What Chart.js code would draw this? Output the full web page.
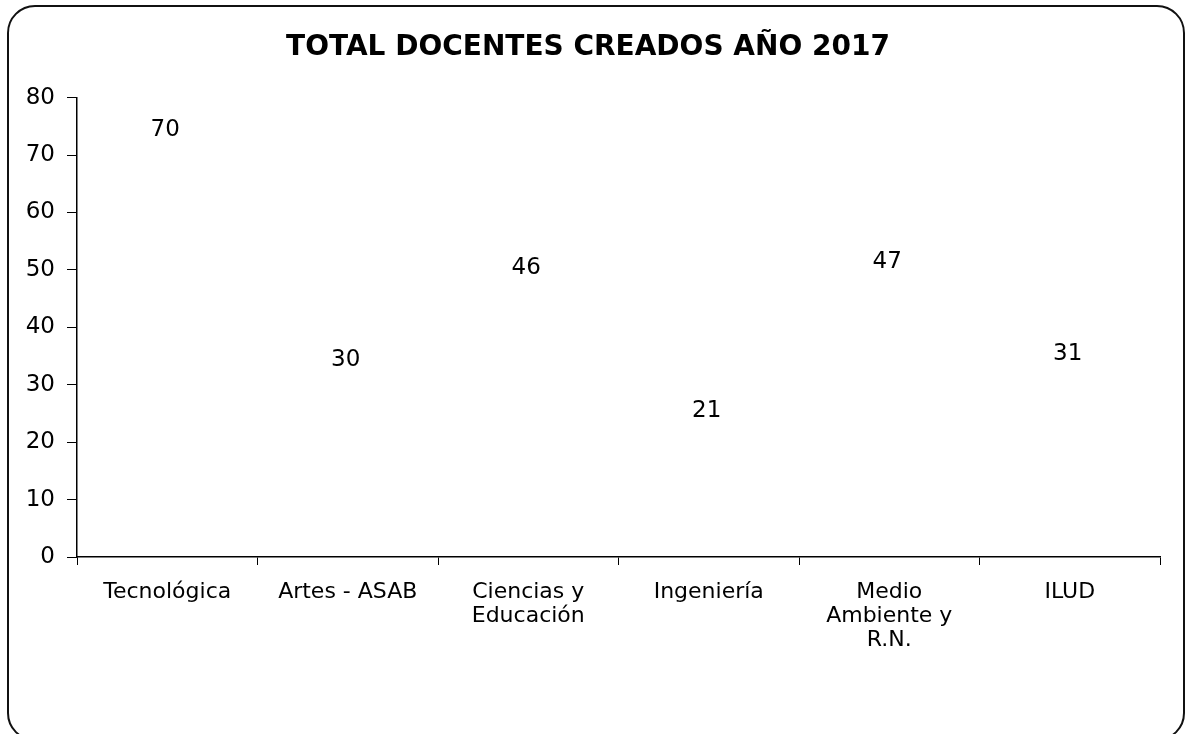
<!DOCTYPE html>
<html>
<head>
<meta charset="utf-8">
<title>Total docentes creados año 2017</title>
<script src="https://cdn.jsdelivr.net/npm/chart.js@4.4.0/dist/chart.umd.min.js"></script>
<style>
    html, body { margin: 0; padding: 0; background: #fff; }
    #wrap { position: relative; width: 1188px; height: 734px; overflow: hidden; }
    #frame {
        position: absolute; left: 7px; top: 5px; width: 1174px; height: 732px;
        border: 2px solid #111; border-radius: 28px; pointer-events: none;
    }
</style>
</head>
<body>
<div id="wrap">
    <canvas id="chartDocentes" width="1188" height="734"></canvas>
    <div id="frame"></div>
</div>
<script>
    const categorias = [
        'Tecnológica',
        'Artes - ASAB',
        ['Ciencias y', 'Educación'],
        'Ingeniería',
        ['Medio', 'Ambiente y', 'R.N.'],
        'ILUD'
    ];
    const docentes = [70, 30, 46, 21, 47, 31];
    const yTicks = [0, 10, 20, 30, 40, 50, 60, 70, 80];

    const fuente = "'DejaVu Sans', Verdana, sans-serif";

    // etiquetas de valor encima de cada barra (las barras son blancas)
    const etiquetas = {
        id: 'etiquetas',
        afterDatasetsDraw(chart) {
            const ctx = chart.ctx;
            const meta = chart.getDatasetMeta(0);
            ctx.save();
            ctx.font = '23px ' + fuente;
            ctx.fillStyle = '#000';
            ctx.textAlign = 'center';
            ctx.textBaseline = 'middle';
            meta.data.forEach(function (bar, i) {
                ctx.fillText(docentes[i], bar.x - 2, bar.y - 25);
            });
            ctx.restore();
        }
    };

    const el = document.getElementById('chartDocentes');
    new Chart(el, {
        type: 'bar',
        data: {
            labels: categorias,
            datasets: [{
                label: 'Docentes',
                data: docentes,
                backgroundColor: 'rgba(255,255,255,0)',
                borderWidth: 0,
                barPercentage: 0.6
            }]
        },
        options: {
            responsive: false,
            animation: false,
            layout: { padding: { left: 16, right: 28, top: 0, bottom: 0 } },
            plugins: {
                legend: { display: false },
                tooltip: { enabled: false },
                title: {
                    display: true,
                    text: 'TOTAL DOCENTES CREADOS AÑO 2017',
                    color: '#000',
                    font: { family: fuente, size: 28, weight: 'bold', lineHeight: 1.2 },
                    padding: { top: 31, bottom: 33 }
                }
            },
            scales: {
                x: {
                    grid: {
                        display: true,
                        drawOnChartArea: false,
                        offset: true,
                        color: '#000',
                        tickLength: 8
                    },
                    border: { color: '#000', width: 1.5 },
                    ticks: {
                        color: '#000',
                        font: { family: fuente, size: 22, lineHeight: 1.1 },
                        maxRotation: 0,
                        autoSkip: false,
                        padding: 15
                    },
                    afterFit(scale) { scale.height = 734 - 557; }
                },
                y: {
                    min: 0,
                    max: 80,
                    afterBuildTicks(scale) {
                        scale.ticks = yTicks.map(function (v) { return { value: v }; });
                    },
                    grid: {
                        display: true,
                        drawOnChartArea: false,
                        color: '#000',
                        tickLength: 10
                    },
                    border: { color: '#000', width: 1.5 },
                    ticks: {
                        color: '#000',
                        font: { family: fuente, size: 23 },
                        padding: 12
                    },
                    afterFit(scale) { scale.width = 61; }
                }
            }
        },
        plugins: [etiquetas]
    });
</script>
</body>
</html>
